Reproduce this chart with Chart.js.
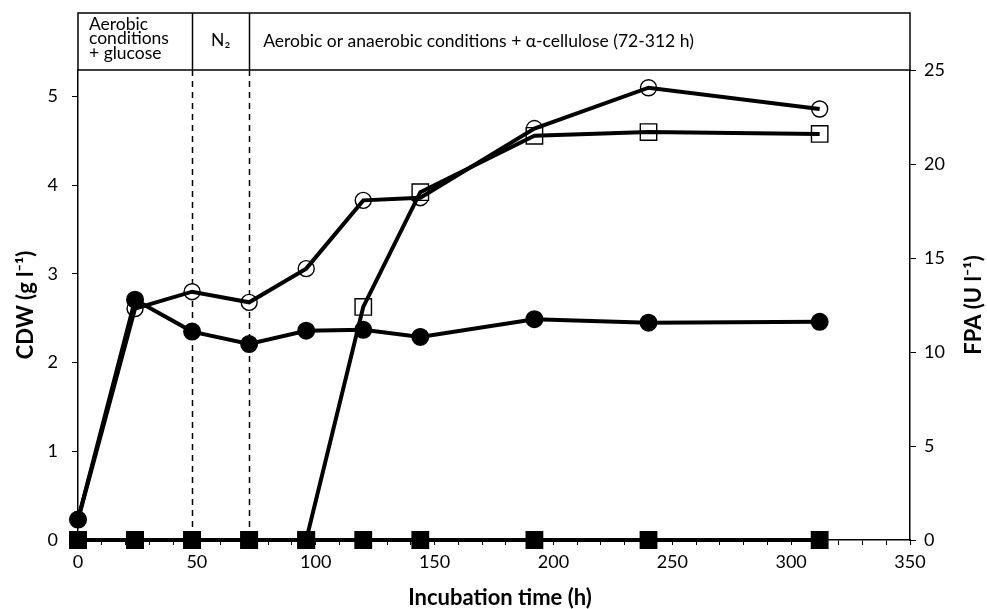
<!DOCTYPE html>
<html>
<head>
<meta charset="utf-8">
<script src="https://cdn.jsdelivr.net/npm/chart.js@4"></script>
<style>
  html, body { margin: 0; padding: 0; background: #fff; }
  #wrap { position: relative; width: 987px; height: 609px; }
</style>
</head>
<body>
<div id="wrap"><canvas id="chart"></canvas></div>
<script>
// incubation time (h)
const hours = [0, 24, 48, 72, 96, 120, 144, 192, 240, 312];
// CDW (g l-1), left axis
const cdwFilled = [0.23, 2.71, 2.35, 2.21, 2.36, 2.37, 2.29, 2.49, 2.45, 2.46];
const cdwOpen = [0.23, 2.61, 2.80, 2.68, 3.06, 3.83, 3.86, 4.64, 5.10, 4.86];
// FPA (U l-1), right axis
const fpaOpen = [0, 0, 0, 0, 0, 12.4, 18.5, 21.5, 21.7, 21.6];
const fpaFilled = [0, 0, 0, 0, 0, 0, 0, 0, 0, 0];

// phase boundaries (h) and header texts
const phaseBounds = [48, 72];
const phaseLabels = [['Aerobic', 'conditions', '+ glucose'], ['N\u2082'], ['Aerobic or anaerobic conditions + \u03b1-cellulose (72-312 h)']];
const xTitle = 'Incubation time (h)';
const yTitle = 'CDW (g l\u207b\u00b9)';
const y2Title = 'FPA (U l\u207b\u00b9)';

const FONT = 'Lato';

const pts = (ys) => hours.map((h, i) => ({ x: h, y: ys[i] }));

// markers only; the connecting line is a separate dataset drawn on top
function markers(ys, axis, style, filled, radius, order) {
  return {
    data: pts(ys),
    yAxisID: axis,
    showLine: false,
    pointStyle: style,
    pointRadius: radius,
    pointHoverRadius: radius,
    pointBackgroundColor: filled ? '#000' : '#fff',
    pointBorderColor: '#000',
    pointBorderWidth: 1.4,
    clip: false,
    order: order
  };
}

function line(ys, axis, order) {
  return {
    data: pts(ys),
    yAxisID: axis,
    borderColor: '#000',
    borderWidth: 4,
    pointRadius: 0,
    pointHoverRadius: 0,
    tension: 0,
    clip: false,
    order: order
  };
}

const headerPlugin = {
  id: 'header',
  beforeDatasetsDraw(chart) {
    const ctx = chart.ctx;
    const x = chart.scales.x;
    const area = chart.chartArea;
    ctx.save();
    ctx.strokeStyle = '#000';
    ctx.lineWidth = 1.5;
    ctx.setLineDash([6, 5]);
    phaseBounds.forEach((b) => {
      const px = Math.round(x.getPixelForValue(b)) + 0.5;
      ctx.beginPath();
      ctx.moveTo(px, area.top);
      ctx.lineTo(px, area.bottom);
      ctx.stroke();
    });
    ctx.restore();
  },
  afterDraw(chart) {
    const ctx = chart.ctx;
    const x = chart.scales.x;
    const area = chart.chartArea;
    const top = 13;
    ctx.save();
    ctx.strokeStyle = '#000';
    ctx.lineWidth = 1.5;
    ctx.strokeRect(area.left, top, area.right - area.left, area.top - top);
    phaseBounds.forEach((b) => {
      const px = Math.round(x.getPixelForValue(b)) + 0.5;
      ctx.beginPath();
      ctx.moveTo(px, top);
      ctx.lineTo(px, area.top);
      ctx.stroke();
    });
    ctx.fillStyle = '#000';
    ctx.font = '17.5px ' + FONT;
    ctx.textBaseline = 'middle';
    const b0 = x.getPixelForValue(phaseBounds[0]);
    const b1 = x.getPixelForValue(phaseBounds[1]);
    ctx.textAlign = 'left';
    phaseLabels[0].forEach((t, i) => ctx.fillText(t, area.left + 11, 24 + i * 14.5));
    ctx.textAlign = 'center';
    ctx.fillText(phaseLabels[1][0], (b0 + b1) / 2, 40);
    ctx.textAlign = 'left';
    ctx.fillText(phaseLabels[2][0], b1 + 14, 41);

    // axis titles
    const midY = (area.top + area.bottom) / 2;
    ctx.font = 'bold 22px ' + FONT;
    ctx.textAlign = 'center';
    ctx.fillText(xTitle, 500, 598);
    ctx.save();
    ctx.translate(26, midY);
    ctx.rotate(-Math.PI / 2);
    ctx.fillText(yTitle, 0, 0);
    ctx.restore();
    ctx.save();
    ctx.translate(974, midY);
    ctx.rotate(-Math.PI / 2);
    ctx.fillText(y2Title, 0, 0);
    ctx.restore();
    ctx.restore();
  }
};

new Chart(document.getElementById('chart'), {
  type: 'line',
  data: {
    datasets: [
      line(cdwOpen, 'y', 1),
      line(cdwFilled, 'y', 2),
      line(fpaOpen, 'y2', 3),
      line(fpaFilled, 'y2', 4),
      markers(fpaFilled, 'y2', 'rect', true, 11.6, 5),
      markers(cdwFilled, 'y', 'circle', true, 8.3, 6),
      markers(fpaOpen, 'y2', 'rect', false, 11.6, 7),
      markers(cdwOpen, 'y', 'circle', false, 8, 8)
    ]
  },
  options: {
    responsive: true,
    maintainAspectRatio: false,
    animation: false,
    layout: { padding: { top: 70, left: 0, right: 0, bottom: 0 } },
    plugins: { legend: { display: false }, tooltip: { enabled: false } },
    scales: {
      x: {
        type: 'linear',
        min: 0,
        max: 350,
        afterFit: (s) => { s.height = 69; },
        border: { display: true, color: '#000', width: 1.5 },
        grid: { drawOnChartArea: false, drawTicks: true, tickLength: 5, color: '#000', lineWidth: 1 },
        ticks: {
          stepSize: 10,
          autoSkip: false,
          maxRotation: 0,
          padding: 6,
          color: '#000',
          font: { family: FONT, size: 18 },
          callback: (v) => (v % 50 === 0 ? v : '')
        }
      },
      y: {
        position: 'left',
        min: 0,
        max: 5.3,
        afterFit: (s) => { s.width = 78; },
        border: { display: true, color: '#000', width: 1.5 },
        grid: { drawOnChartArea: false, drawTicks: true, tickLength: 6, color: '#000', lineWidth: 1 },
        ticks: {
          stepSize: 1,
          includeBounds: false,
          padding: 14,
          color: '#000',
          font: { family: FONT, size: 18 }
        }
      },
      y2: {
        position: 'right',
        min: 0,
        max: 25,
        afterFit: (s) => { s.width = 77; },
        border: { display: true, color: '#000', width: 1.5 },
        grid: { drawOnChartArea: false, drawTicks: true, tickLength: 6, color: '#000', lineWidth: 1 },
        ticks: {
          stepSize: 5,
          padding: 8,
          color: '#000',
          font: { family: FONT, size: 18 }
        }
      }
    }
  },
  plugins: [headerPlugin]
});
</script>
</body>
</html>
